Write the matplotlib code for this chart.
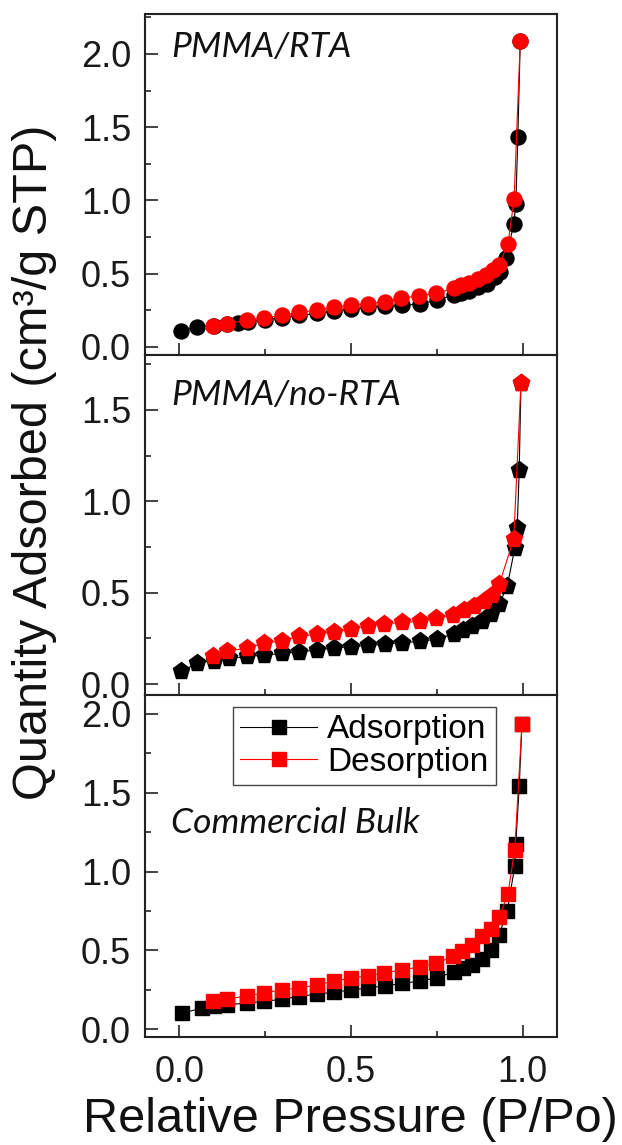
import matplotlib
matplotlib.use("Agg")
import matplotlib.pyplot as plt
from matplotlib.ticker import MultipleLocator

plt.rcParams['font.family'] = ['Liberation Sans', 'DejaVu Sans']

# PMMA/RTA isotherm
rta_ads_x = [0.006, 0.052, 0.10, 0.14, 0.17, 0.20, 0.25, 0.30, 0.35, 0.40, 0.45, 0.50,
             0.55, 0.60, 0.65, 0.70, 0.75, 0.80, 0.82, 0.845, 0.87, 0.895, 0.918,
             0.933, 0.952, 0.974, 0.98, 0.986, 0.993]
rta_ads_y = [0.107, 0.137, 0.145, 0.155, 0.165, 0.172, 0.185, 0.200, 0.215, 0.228, 0.245,
             0.258, 0.270, 0.278, 0.283, 0.293, 0.320, 0.355, 0.370, 0.384, 0.407, 0.430,
             0.480, 0.514, 0.605, 0.84, 0.976, 1.435, 2.09]
rta_des_x = [0.993, 0.975, 0.957, 0.931, 0.913, 0.894, 0.87, 0.845, 0.821, 0.799, 0.748,
             0.698, 0.646, 0.598, 0.549, 0.499, 0.45, 0.40, 0.348, 0.298, 0.247, 0.197,
             0.139, 0.099]
rta_des_y = [2.09, 1.008, 0.70, 0.56, 0.525, 0.49, 0.462, 0.439, 0.423, 0.40, 0.366,
             0.348, 0.332, 0.309, 0.296, 0.285, 0.269, 0.25, 0.235, 0.216, 0.198, 0.182,
             0.159, 0.141]

# PMMA/no-RTA isotherm
nrta_ads_x = [0.006, 0.052, 0.10, 0.145, 0.197, 0.247, 0.298, 0.348, 0.40, 0.45, 0.50,
              0.55, 0.60, 0.65, 0.70, 0.75, 0.80, 0.825, 0.853, 0.882, 0.908, 0.932,
              0.955, 0.977, 0.984, 0.99, 0.995]
nrta_ads_y = [0.069, 0.115, 0.128, 0.14, 0.151, 0.158, 0.168, 0.175, 0.187, 0.197, 0.205,
              0.212, 0.218, 0.226, 0.233, 0.246, 0.275, 0.297, 0.319, 0.343, 0.385, 0.439,
              0.534, 0.744, 0.853, 1.172, 1.649]
nrta_des_x = [0.995, 0.974, 0.932, 0.911, 0.887, 0.858, 0.829, 0.798, 0.748, 0.70, 0.65,
              0.597, 0.549, 0.499, 0.45, 0.40, 0.348, 0.298, 0.247, 0.197, 0.139, 0.099]
nrta_des_y = [1.649, 0.793, 0.547, 0.488, 0.452, 0.425, 0.403, 0.379, 0.361, 0.343, 0.337,
              0.33, 0.319, 0.30, 0.286, 0.273, 0.261, 0.237, 0.224, 0.197, 0.179, 0.151]

# Commercial bulk isotherm
bulk_ads_x = [0.008, 0.066, 0.10, 0.14, 0.197, 0.247, 0.298, 0.348, 0.40, 0.45, 0.50,
              0.55, 0.60, 0.65, 0.70, 0.75, 0.80, 0.825, 0.853, 0.882, 0.908, 0.932,
              0.955, 0.977, 0.98, 0.99, 0.998]
bulk_ads_y = [0.102, 0.133, 0.145, 0.155, 0.165, 0.176, 0.19, 0.207, 0.222, 0.235, 0.248,
              0.262, 0.275, 0.29, 0.305, 0.325, 0.365, 0.385, 0.41, 0.445, 0.50, 0.60,
              0.75, 1.033, 1.175, 1.541, 1.939]
bulk_des_x = [0.998, 0.977, 0.957, 0.932, 0.908, 0.882, 0.853, 0.824, 0.798, 0.748, 0.70,
              0.65, 0.597, 0.549, 0.499, 0.45, 0.40, 0.348, 0.298, 0.247, 0.197, 0.139,
              0.099]
bulk_des_y = [1.939, 1.139, 0.857, 0.711, 0.635, 0.588, 0.535, 0.493, 0.461, 0.419, 0.394,
              0.377, 0.356, 0.339, 0.324, 0.303, 0.281, 0.26, 0.25, 0.229, 0.212, 0.19,
              0.176]

panels = [
    ("PMMA/RTA", 'o', 10.8, (-0.055, 2.273), rta_ads_x, rta_ads_y, rta_des_x, rta_des_y, 0.874),
    ("PMMA/no-RTA", 'p', 12.5, (-0.06, 1.80), nrta_ads_x, nrta_ads_y, nrta_des_x, nrta_des_y, 0.853),
    ("Commercial Bulk", 's', 9.5, (-0.05, 2.12), bulk_ads_x, bulk_ads_y, bulk_des_x, bulk_des_y, 0.596),
]
boxes = [(0.2331, 0.6900, 0.6624, 0.2978),
         (0.2331, 0.3930, 0.6624, 0.2970),
         (0.2331, 0.0943, 0.6624, 0.2987)]

fig = plt.figure(figsize=(6.22, 11.45), dpi=100)

axes = []
for (name, mk, ms, ylim, ax_x, ax_y, de_x, de_y, ty), box in zip(panels, boxes):
    ax = fig.add_axes(box)
    ax.plot(ax_x, ax_y, color='black', lw=0.8, marker=mk, ms=ms, mec='black', mfc='black',
            label='Adsorption', zorder=3)
    ax.plot(de_x, de_y, color='red', lw=0.8, marker=mk, ms=ms, mec='red', mfc='red',
            label='Desorption', zorder=4)
    ax.set_xlim(-0.1, 1.1)
    ax.set_ylim(*ylim)
    ax.xaxis.set_major_locator(MultipleLocator(0.5))
    ax.xaxis.set_minor_locator(MultipleLocator(0.25))
    ax.yaxis.set_major_locator(MultipleLocator(0.5))
    ax.yaxis.set_minor_locator(MultipleLocator(0.25))
    ax.tick_params(which='both', direction='in', top=False, right=False, width=1.2,
                   color='#222222')
    ax.tick_params(which='major', length=9)
    ax.tick_params(which='minor', length=4)
    ax.tick_params(axis='y', labelsize=26, pad=10, labelcolor='#1a1a1a')
    ax.tick_params(axis='x', labelsize=26, pad=13, labelcolor='#1a1a1a')
    for s in ax.spines.values():
        s.set_linewidth(1.5)
        s.set_color('#222222')
    ax.text(0.063, ty, name, transform=ax.transAxes, fontsize=25.5, style='italic',
            family='Lato', va='baseline', ha='left', color='#111111')
    axes.append(ax)

axes[0].tick_params(axis='x', labelbottom=False)
axes[1].tick_params(axis='x', labelbottom=False)

leg = axes[2].legend(loc='upper left', bbox_to_anchor=(0.2136, 0.965), borderaxespad=0,
                     fontsize=24, handlelength=2.3, handletextpad=0.3, labelspacing=0.05,
                     borderpad=0.22, fancybox=False, framealpha=1, edgecolor='#444444')
leg.get_frame().set_linewidth(1.0)
for h in leg.legend_handles:
    h.set_marker('s')
    h.set_markersize(10)

fig.text(0.055, 0.596, "Quantity Adsorbed (cm\u00b3/g STP)", rotation=90, fontsize=35,
         ha='center', va='center', color='#111111')
fig.text(0.564, 0.0114, "Relative Pressure (P/Po)", fontsize=35, ha='center',
         va='baseline', color='#111111')

fig.savefig('out.png', dpi=100)
